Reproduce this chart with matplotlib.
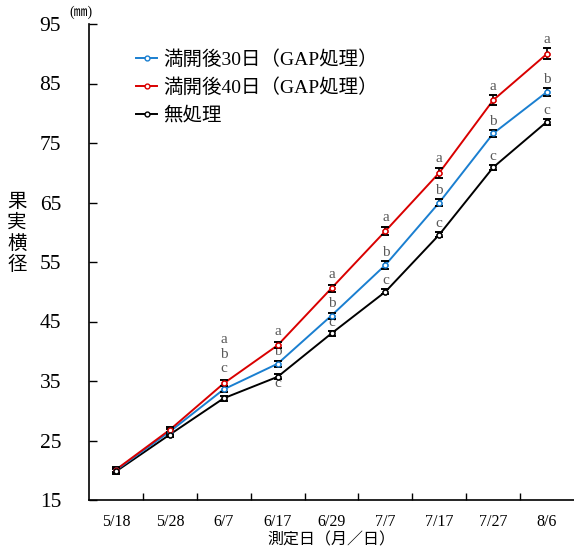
import matplotlib.pyplot as plt
import numpy as np

# 測定日と果実横径 (mm)
dates = ['5/18', '5/28', '6/7', '6/17', '6/29', '7/7', '7/17', '7/27', '8/6']
gap30 = [20.0, 26.5, 33.6, 37.9, 46.0, 54.5, 65.0, 76.6, 83.6]
gap40 = [20.1, 26.8, 34.6, 41.0, 50.6, 60.2, 70.0, 82.2, 90.0]
ctrl = [19.8, 26.0, 32.1, 35.7, 43.0, 50.0, 59.6, 70.9, 78.6]
err30 = [0.4, 0.5, 0.5, 0.5, 0.5, 0.6, 0.6, 0.6, 0.7]
err40 = [0.4, 0.5, 0.5, 0.5, 0.6, 0.6, 0.8, 0.8, 0.9]
errc = [0.4, 0.4, 0.4, 0.4, 0.4, 0.4, 0.4, 0.4, 0.5]
sig30 = ['b'] * 9
sig40 = ['a'] * 9
sigc = ['c'] * 9
sig_from = 2  # 有意差表示は6/7から

plt.rcParams['font.family'] = ['Liberation Serif', 'Noto Sans CJK JP']
fig = plt.figure(figsize=(5.74, 5.52), dpi=100)
ax = fig.add_axes([89 / 574, 52 / 552, 485 / 574, 476 / 552])

x = np.arange(len(dates))
series = [
    ('満開後30日（GAP処理）', gap30, err30, '#1a7fd0'),
    ('満開後40日（GAP処理）', gap40, err40, '#d90000'),
    ('無処理', ctrl, errc, 'black'),
]
handles = []
for i, (lab, y, e, c) in enumerate(series):
    z = [3, 4, 2][i]
    ax.errorbar(x, y, yerr=e, fmt='none', ecolor='black', elinewidth=1.2,
                capsize=2.8, capthick=1.4, zorder=5)
    h, = ax.plot(x, y, color=c, lw=1.4, marker='o', ms=3.5, mfc='white',
                 mec=c, mew=1.0, label=lab, zorder=z)
    ax.plot(x, y, ls='none', marker='o', ms=3.5, mfc='white', mec=c,
            mew=1.0, zorder=6)
    handles.append(h)

# 有意差の文字
grey = '#595959'
for j in range(sig_from, len(dates)):
    if j == 2:
        # 6/7 は赤の上にまとめて表示
        offs = [(sig40[j], gap40[j], 44), (sig30[j], gap40[j], 29), (sigc[j], gap40[j], 15)]
    else:
        offs = [(sig40[j], gap40[j], 14), (sig30[j], gap30[j], 12),
                (sigc[j], ctrl[j], -7 if j == 3 else 11)]
    for s, yv, dy in offs:
        ax.annotate(s, (x[j], yv), xytext=(0, dy), textcoords='offset pixels',
                    ha='center', va='center', fontsize=11, color=grey,
                    family='Liberation Serif')

ax.set_xlim(-0.5, len(dates) - 0.5)
ax.set_ylim(15, 95)
ax.set_yticks(np.arange(15, 96, 10))
ax.set_xticks(x)
ax.set_xticklabels(dates)
ax.set_xticks(np.arange(0.5, len(dates) - 1, 1), minor=True)
ax.tick_params(axis='x', which='major', length=0, pad=10, labelsize=11.5)
ax.tick_params(axis='x', which='minor', direction='in', length=5, width=1)
ax.tick_params(axis='y', direction='in', length=6, width=1, pad=20, labelsize=15.5)
for s in ['top', 'right']:
    ax.spines[s].set_visible(False)
for s in ['left', 'bottom']:
    ax.spines[s].set_linewidth(1.2)

ax.set_xlabel('測定日（月／日）', fontsize=11.5, labelpad=2)
fig.text(17 / 574, 1 - 234 / 552, '果\n実\n横\n径', fontsize=14, ha='center',
         va='center', linespacing=1.25)
fig.text(81 / 574, 1 - 12 / 552, '(㎜)', fontsize=10, ha='center', va='center')

ax.legend(handles=handles, loc='upper left', bbox_to_anchor=(136 / 574, 1 - 50 / 552),
          bbox_transform=fig.transFigure, frameon=False, fontsize=14,
          handlelength=1.1, handletextpad=0.3, labelspacing=0.5,
          borderpad=0, borderaxespad=0)

fig.savefig('out.png', dpi=100)
